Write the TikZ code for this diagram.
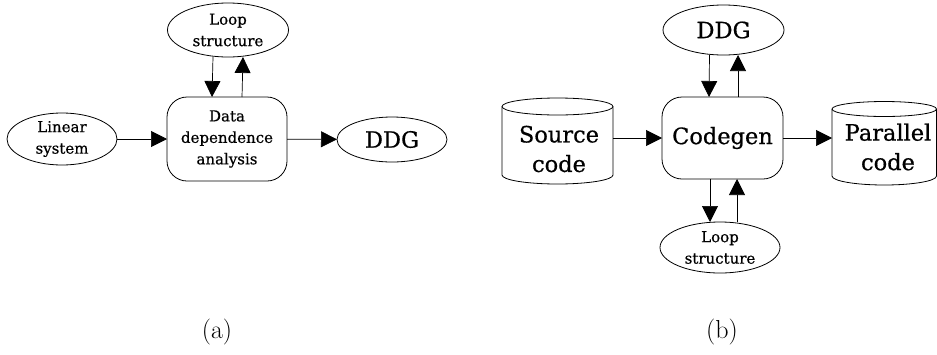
\documentclass[tikz,border=0pt]{standalone}
\usepackage{fontspec}
\newfontfamily\dfont[FakeBold=0.6]{DejaVu Serif}
\usetikzlibrary{arrows.meta,shapes.geometric}
\begin{document}
\begin{tikzpicture}[x=1pt,y=-1pt,
  every node/.style={inner sep=0pt, outer sep=0pt},
  small/.style={font=\dfont\fontsize{15}{21.5}\selectfont, align=center},
  big/.style={font=\dfont\fontsize{22.5}{29.5}\selectfont, align=center},
  oval/.style={draw, ellipse, line width=0.8pt},
  proc/.style={draw, rounded corners=20pt, line width=0.8pt},
  cyl/.style={line width=0.8pt},
  arr/.style={line width=0.7pt, -{Triangle[length=16pt,width=16pt]}},
  captext/.style={font=\fontsize{26}{30}\selectfont},
]
\useasboundingbox (0,0) rectangle (937,354);

% ---------- (a) ----------
\node[proc, small, minimum width=120pt, minimum height=84pt] (boxA) at (227,139) {Data\\dependence\\analysis};
\node[oval, small, minimum width=121pt, minimum height=54pt] (loopA) at (228,30) {Loop\\structure};
\node[oval, small, minimum width=110pt, minimum height=52pt] (linA) at (62,139) {Linear\\system};
\node[oval, big, minimum width=110pt, minimum height=45pt] (ddgA) at (392,139.5) {DDG};

\draw[arr] (linA) -- (boxA);
\draw[arr] (boxA) -- (ddgA);
\draw[arr] ([xshift=-15pt]loopA.south) -- ([xshift=-15pt]boxA.north);
\draw[arr] ([xshift=15pt]boxA.north) -- ([xshift=15pt]loopA.south);

\node[captext] (capA) at (217,332.5) {(a)};

% ---------- (b) ----------
\node[proc, big, minimum width=121pt, minimum height=82pt] (boxB) at (722.5,138) {Codegen};
\node[oval, big, minimum width=121pt, minimum height=50pt] (ddgB) at (723.5,30) {DDG};
\node[oval, small, minimum width=120pt, minimum height=51pt] (loopB) at (720,247.5) {Loop\\structure};

% Source code cylinder
\node[minimum width=111pt, minimum height=86pt] (src) at (557.5,141) {};
\draw[cyl] (557.5,106.5) ellipse [x radius=55.5pt, y radius=8.5pt];
\draw[cyl] (src.west |- 0,106.5) -- (src.west |- 0,175)
  arc[start angle=180, end angle=360, x radius=55.5pt, y radius=9pt]
  -- (src.east |- 0,106.5);
\node[big] (srcT) at (559,149) {Source\\code};

% Parallel code cylinder
\node[minimum width=104.5pt, minimum height=85pt] (par) at (884.25,143.5) {};
\draw[cyl] (884.25,109) ellipse [x radius=52.25pt, y radius=7.5pt];
\draw[cyl] (par.west |- 0,109) -- (par.west |- 0,176)
  arc[start angle=180, end angle=360, x radius=52.25pt, y radius=9pt]
  -- (par.east |- 0,109);
\node[big] (parT) at (888,147) {Parallel\\code};

\draw[arr] (src.east |- boxB.west) -- (boxB.west);
\draw[arr] (boxB.east) -- (par.west |- boxB.east);
\draw[arr] ([xshift=-14pt]ddgB.south) -- ([xshift=-13.5pt]boxB.north);
\draw[arr] ([xshift=15.5pt]boxB.north) -- ([xshift=14.5pt]ddgB.south);
\draw[arr] ([xshift=-12.5pt]boxB.south) -- ([xshift=-10pt]loopB.north);
\draw[arr] ([xshift=17pt]loopB.north) -- ([xshift=14.5pt]boxB.south);

\node[captext] (capB) at (722,332.5) {(b)};
\end{tikzpicture}
\end{document}
